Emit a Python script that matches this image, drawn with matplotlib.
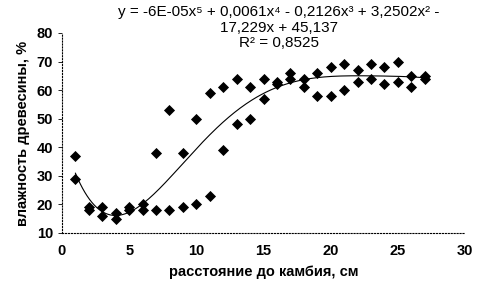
import numpy as np
import matplotlib
matplotlib.use("Agg")
import matplotlib.pyplot as plt

plt.rcParams['font.family'] = ['Liberation Sans', 'DejaVu Sans']

# distance to cambium (cm) and moisture (%)
x_vals = [1, 1, 2, 2, 3, 3, 4, 4, 5, 5, 6, 6, 7, 7, 8, 8, 9, 9, 10, 10,
          11, 11, 12, 12, 13, 13, 14, 14, 15, 15, 16, 16, 17, 17, 18, 18,
          19, 19, 20, 20, 21, 21, 22, 22, 23, 23, 24, 24, 25, 25, 26, 26, 27, 27]
y_vals = [37, 29, 18, 19, 19, 16, 17, 15, 19, 18, 20, 18, 38, 18, 53, 18, 38, 19, 50, 20,
          59, 23, 61, 39, 64, 48, 61, 50, 64, 57, 63, 62, 66, 64, 64, 61,
          66, 58, 68, 58, 69, 60, 67, 63, 69, 64, 68, 62, 70, 63, 65, 61, 65, 64]

x_ticks = [0, 5, 10, 15, 20, 25, 30]
y_ticks = [10, 20, 30, 40, 50, 60, 70, 80]

eq_text = ("y = -6E-05x\u2075 + 0,0061x\u2074 - 0,2126x\u00b3 + 3,2502x\u00b2 -\n"
           "17,229x + 45,137\nR\u00b2 = 0,8525")

fig = plt.figure(figsize=(4.79, 2.83), dpi=100)
ax = fig.add_axes([62/479, 1-233/283, (465-62)/479, (233-33)/283])

ax.scatter(x_vals, y_vals, marker='D', s=32, color='black', zorder=3, linewidths=0)

coef = np.polyfit(x_vals, y_vals, 5)
xs = np.linspace(min(x_vals), max(x_vals), 300)
ax.plot(xs, np.polyval(coef, xs), color='black', lw=0.8, zorder=2)

ax.set_xlim(0, 30)
ax.set_ylim(10, 80)
ax.set_xticks(x_ticks)
ax.set_yticks(y_ticks)
for s in ['top', 'right']:
    ax.spines[s].set_visible(False)
for s in ['left', 'bottom']:
    ax.spines[s].set_linestyle(':')
    ax.spines[s].set_linewidth(0.8)
ax.tick_params(axis='y', length=3, width=0.6, labelsize=10.5)
ax.tick_params(axis='x', length=0, labelsize=10.5, pad=8)
for lab in ax.get_xticklabels() + ax.get_yticklabels():
    lab.set_fontweight('bold')

ax.set_xlabel('расстояние до камбия, см', fontsize=10.5, fontweight='bold', labelpad=5)
ax.set_ylabel('влажность древесины, %', fontsize=10.5, fontweight='bold', labelpad=5)

fig.text(279/479, 1-5/283, eq_text, ha='center', va='top', fontsize=11,
         linespacing=1.15)

fig.savefig('out.png', dpi=100)
